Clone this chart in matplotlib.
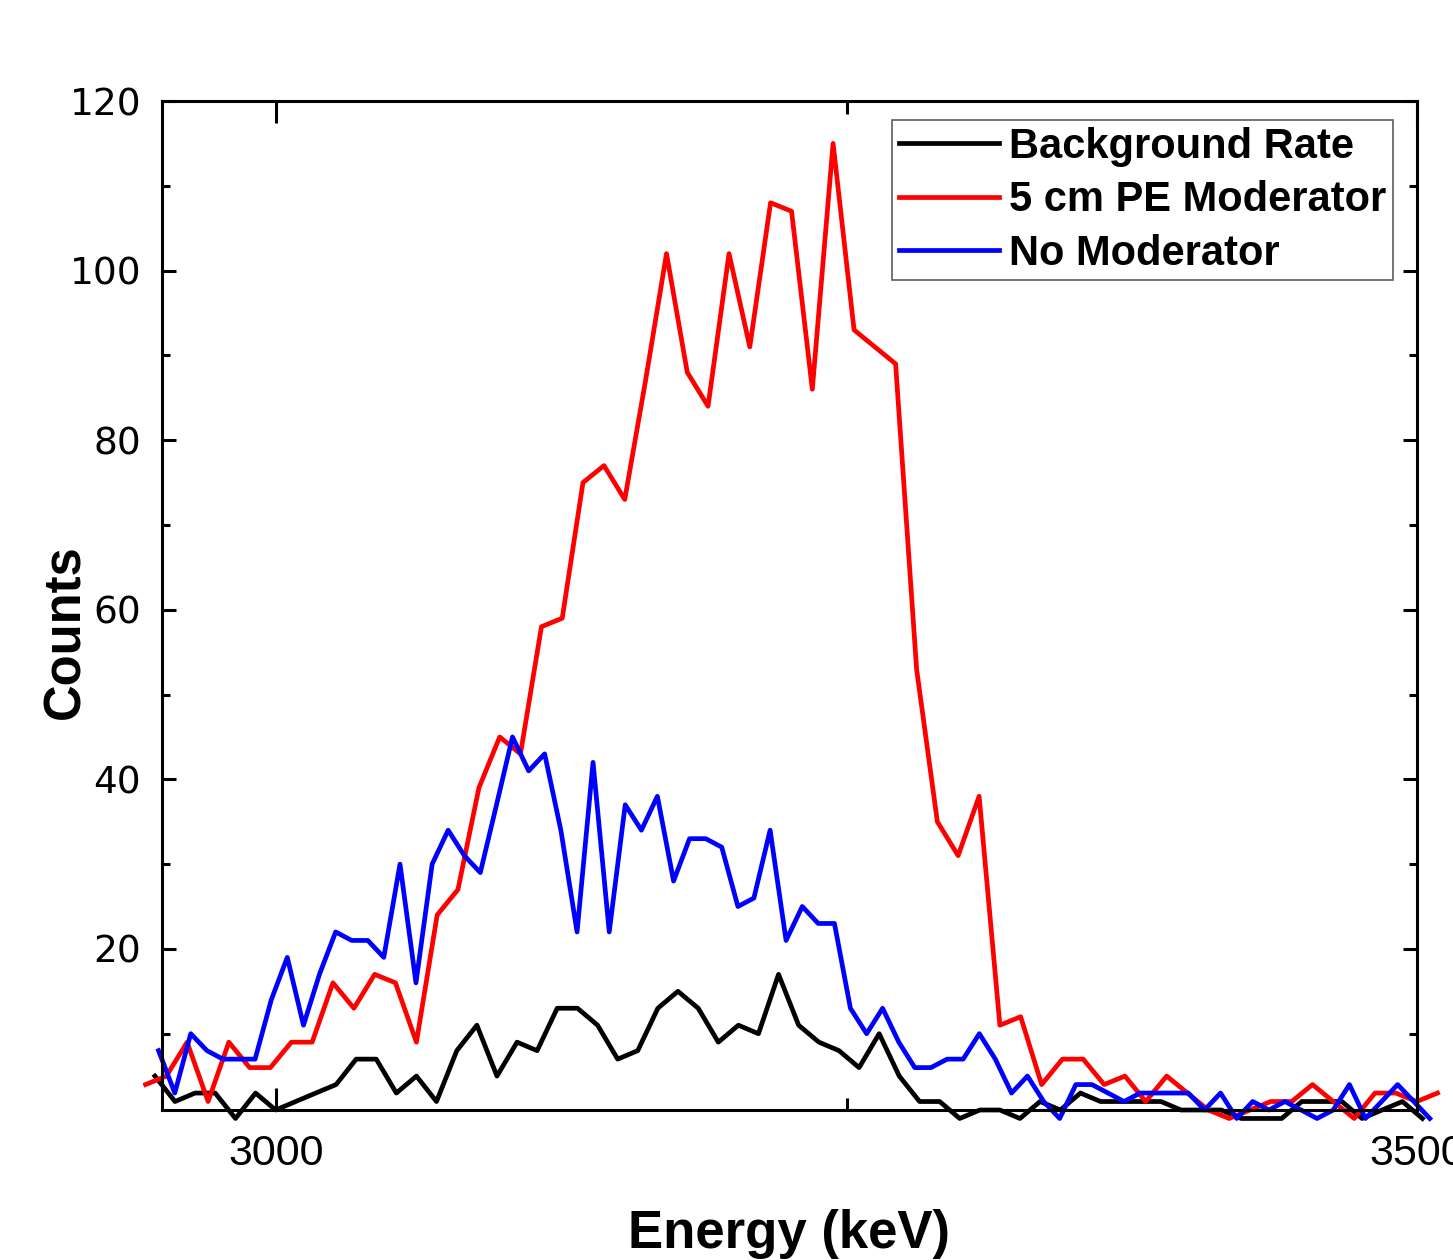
import matplotlib
matplotlib.use("Agg")
import matplotlib.pyplot as plt

plt.rcParams['font.family'] = ['Liberation Sans', 'DejaVu Sans']

# Background rate spectrum
bg_energy = [2946.9, 2955.7, 2964.5, 2973.3, 2982.2, 2991.0, 2999.8, 3008.6, 3017.4, 3026.3,
             3035.1, 3043.9, 3052.7, 3061.5, 3070.3, 3079.2, 3088.0, 3096.8, 3105.6, 3114.4,
             3123.2, 3132.1, 3140.9, 3149.7, 3158.5, 3167.3, 3176.1, 3185.0, 3193.8, 3202.6,
             3211.4, 3220.2, 3229.0, 3237.9, 3246.7, 3255.5, 3264.3, 3273.1, 3282.0, 3290.8,
             3299.6, 3308.4, 3317.2, 3326.0, 3334.8, 3343.7, 3352.5, 3361.3, 3370.1, 3378.9,
             3387.8, 3396.6, 3405.4, 3414.2, 3423.0, 3431.8, 3440.7, 3449.5, 3458.3, 3467.1,
             3475.9, 3484.7, 3493.6, 3502.4]
bg_counts = [5, 2, 3, 3, 0, 3, 1, 2, 3, 4,
             7, 7, 3, 5, 2, 8, 11, 5, 9, 8,
             13, 13, 11, 7, 8, 13, 15, 13, 9, 11,
             10, 17, 11, 9, 8, 6, 10, 5, 2, 2,
             0, 1, 1, 0, 2, 1, 3, 2, 2, 2,
             2, 1, 1, 1, 0, 0, 0, 2, 2, 2,
             0, 1, 2, 0]

# 5 cm PE moderator spectrum
pe_energy = [2942.8, 2951.9, 2961.0, 2970.2, 2979.3, 2988.4, 2997.5, 3006.7, 3015.8, 3024.9,
             3034.1, 3043.2, 3052.3, 3061.5, 3070.6, 3079.7, 3088.9, 3098.0, 3107.1, 3116.3,
             3125.4, 3134.5, 3143.7, 3152.8, 3161.9, 3171.1, 3180.2, 3189.3, 3198.5, 3207.6,
             3216.7, 3225.9, 3235.0, 3244.1, 3253.3, 3262.4, 3271.5, 3280.7, 3289.8, 3298.9,
             3308.1, 3317.2, 3326.3, 3335.5, 3344.6, 3353.7, 3362.9, 3372.0, 3381.1, 3390.3,
             3399.4, 3408.5, 3417.7, 3426.8, 3435.9, 3445.1, 3454.2, 3463.3, 3472.5, 3481.6,
             3490.7, 3499.9, 3509.0]
pe_counts = [4, 5, 9, 2, 9, 6, 6, 9, 9, 16,
             13, 17, 16, 9, 24, 27, 39, 45, 43, 58,
             59, 75, 77, 73, 87, 102, 88, 84, 102, 91,
             108, 107, 86, 115, 93, 91, 89, 53, 35, 31,
             38, 11, 12, 4, 7, 7, 4, 5, 2, 5,
             3, 1, 0, 1, 2, 2, 4, 2, 0, 3,
             3, 2, 3]

# No moderator spectrum
nm_energy = [2948.5, 2955.6, 2962.6, 2969.7, 2976.7, 2983.8, 2990.8, 2997.9, 3004.9, 3012.0,
             3019.0, 3026.1, 3033.1, 3040.2, 3047.2, 3054.3, 3061.3, 3068.4, 3075.4, 3082.5,
             3089.5, 3096.6, 3103.6, 3110.7, 3117.7, 3124.8, 3131.9, 3138.9, 3146.0, 3153.0,
             3160.1, 3167.1, 3174.2, 3181.2, 3188.3, 3195.3, 3202.4, 3209.4, 3216.5, 3223.5,
             3230.6, 3237.6, 3244.7, 3251.7, 3258.8, 3265.8, 3272.9, 3279.9, 3287.0, 3294.1,
             3301.1, 3308.2, 3315.2, 3322.3, 3329.3, 3336.4, 3343.4, 3350.5, 3357.5, 3364.6,
             3371.6, 3378.7, 3385.7, 3392.8, 3399.8, 3406.9, 3413.9, 3421.0, 3428.0, 3435.1,
             3442.1, 3449.2, 3456.2, 3463.3, 3470.4, 3477.4, 3484.5, 3491.5, 3498.6, 3505.6]
nm_counts = [8, 3, 10, 8, 7, 7, 7, 14, 19, 11,
             17, 22, 21, 21, 19, 30, 16, 30, 34, 31,
             29, 37, 45, 41, 43, 34, 22, 42, 22, 37,
             34, 38, 28, 33, 33, 32, 25, 26, 34, 21,
             25, 23, 23, 13, 10, 13, 9, 6, 6, 7,
             7, 10, 7, 3, 5, 2, 0, 4, 4, 3,
             2, 3, 3, 3, 3, 1, 3, 0, 2, 1,
             2, 1, 0, 1, 4, 0, 2, 4, 2, 0]

fig = plt.figure(figsize=(14.53, 12.60), dpi=100)
ax = fig.add_axes([162 / 1453, 1 - 1110 / 1260, (1417 - 162) / 1453, (1110 - 101) / 1260])

lw = 3.4
ax.plot(bg_energy, bg_counts, color='black', lw=lw, clip_on=False, label='Background Rate')
ax.plot(pe_energy, pe_counts, color='red', lw=lw, clip_on=False, label='5 cm PE Moderator')
ax.plot(nm_energy, nm_counts, color='blue', lw=lw, clip_on=False, label='No Moderator')

ax.set_xlim(2950, 3500)
ax.set_ylim(1, 120)
ax.set_xticks([3000, 3500])
ax.set_xticks([3250], minor=True)
ax.set_yticks([20, 40, 60, 80, 100, 120])
ax.set_yticks([10, 30, 50, 70, 90, 110], minor=True)

for s in ax.spines.values():
    s.set_linewidth(2.2)

ax.tick_params(which='both', direction='in', top=True, right=True, width=2.2)
ax.tick_params(axis='x', which='major', length=16, pad=17, labelsize=31)
ax.tick_params(axis='x', which='minor', length=9)
ax.tick_params(axis='y', which='major', length=10, pad=15, labelsize=27)
ax.tick_params(axis='y', which='minor', length=6)
for lab in ax.get_yticklabels():
    lab.set_family('DejaVu Sans')

ax.set_xlabel('Energy (keV)', fontsize=38, fontweight='bold')
ax.xaxis.set_label_coords(0.5, -0.098)
ax.set_ylabel('Counts', fontsize=36.5, fontweight='bold')
ax.yaxis.set_label_coords(-0.057, 0.474)

leg = ax.legend(loc='upper right', bbox_to_anchor=(0.981, 0.981),
                prop={'weight': 'bold', 'size': 30},
                frameon=True, fancybox=False, borderpad=0.16, borderaxespad=0,
                handlelength=2.4, handletextpad=0.25, labelspacing=0.32)
leg.get_frame().set_edgecolor('#333333')
leg.get_frame().set_linewidth(1.2)

fig.savefig('out.png', dpi=100)
